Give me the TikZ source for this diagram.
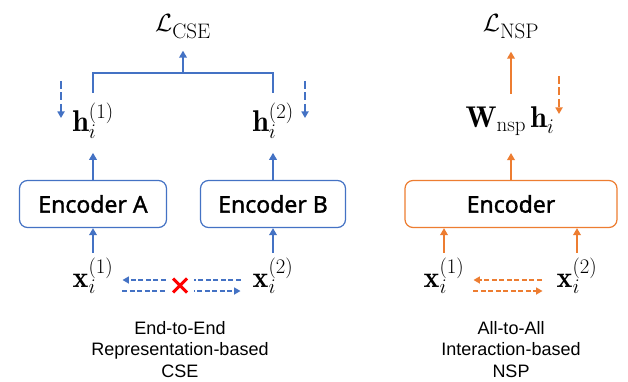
\documentclass[tikz,border=0pt]{standalone}
\usepackage{fontspec}
\newfontfamily\capfont{Liberation Sans}
\newfontfamily\encfont[FakeBold=1.3]{Noto Sans}
\usetikzlibrary{arrows.meta}
\definecolor{cb}{HTML}{4472C4}
\definecolor{co}{HTML}{ED7D31}
\definecolor{cx}{HTML}{FF0000}
\begin{document}
\begin{tikzpicture}[x=1pt,y=-1pt,
  mt/.style={font=\fontsize{30}{35}\selectfont, inner sep=0pt, anchor=base},
  enc/.style={rounded corners=8pt, line width=1.2pt, font=\encfont\fontsize{23}{27}\selectfont, inner sep=0pt, minimum height=47pt},
  captext/.style={font=\capfont\fontsize{18}{21.5}\selectfont, align=center, inner sep=0pt, anchor=north},
  tipB/.style={-{Triangle[width=7.5pt,length=7pt]}},
  lineB/.style={draw=cb, line width=2pt},
  lineO/.style={draw=co, line width=2pt},
  arrB/.style={lineB, tipB},
  arrO/.style={lineO, tipB},
  dvB/.style={draw=cb, line width=1.8pt, dash pattern=on 8pt off 3.5pt, -{Triangle[width=7pt,length=6.5pt]}},
  dvO/.style={draw=co, line width=1.8pt, dash pattern=on 8pt off 3.5pt, -{Triangle[width=7pt,length=6.5pt]}},
  dhB/.style={draw=cb, line width=2pt, dash pattern=on 5pt off 2.5pt, -{Triangle[width=7pt,length=6.5pt]}},
  dhO/.style={draw=co, line width=2pt, dash pattern=on 5pt off 2.5pt, -{Triangle[width=7pt,length=6.5pt]}}
]
\useasboundingbox[fill=white] (0,0) rectangle (628,382);

% encoders
\node[enc, draw=cb, minimum width=147pt] (eA) at (93,204) {Encoder A};
\node[enc, draw=cb, minimum width=145pt] (eB) at (273,204) {Encoder B};
\node[enc, draw=co, minimum width=212pt] (eC) at (511,204) {Encoder};

% math nodes
\node[mt] (Lc) at (183,32) {$\mathcal{L}_{\mathrm{CSE}}$};
\node[mt] (hA) at (93,132) {$\mathbf{h}_i^{(1)}$};
\node[mt] (hB) at (273,132) {$\mathbf{h}_i^{(2)}$};
\node[mt] (Ln) at (511,32) {$\mathcal{L}_{\mathrm{NSP}}$};
\node[mt] (Wh) at (510,128) {$\mathbf{W}_{\mathrm{nsp}}\,\mathbf{h}_i$};
\node[mt] (xA) at (93,287) {$\mathbf{x}_i^{(1)}$};
\node[mt] (xB) at (273,287) {$\mathbf{x}_i^{(2)}$};
\node[mt] (xC) at (444,287) {$\mathbf{x}_i^{(1)}$};
\node[mt] (xD) at (577,287) {$\mathbf{x}_i^{(2)}$};

% left part
\coordinate (j) at (183,73);
\draw[arrB, shorten >=14pt] (eA.north) -- (eA.north |- hA.south);
\draw[arrB, shorten >=14pt] (eB.north) -- (eB.north |- hB.south);
\draw[lineB, shorten <=10pt, shorten >=10pt] (hA.north -| eA.north) |- (j) -| (hB.north -| eB.north);
\draw[arrB, shorten >=12pt] (j) -- (j |- Lc.south);
\draw[arrB, shorten <=5pt] (xA.north) -- (xA.north |- eA.south);
\draw[arrB, shorten <=5pt] (xB.north) -- (xB.north |- eB.south);

\coordinate (gA1) at (61,81); \coordinate (gA2) at (61,118);
\coordinate (gB1) at (305,81); \coordinate (gB2) at (305,118);
\draw[dvB] (gA1) -- (gA2);
\draw[dvB] (gB1) -- (gB2);

\coordinate (up) at (0,280);
\coordinate (lo) at (0,291);
\draw[dhB, shorten <=12pt, shorten >=9pt] (xB.west |- up) -- (xA.east |- up);
\draw[dhB, shorten <=9pt, shorten >=12pt] (xA.east |- lo) -- (xB.west |- lo);
\node[fill=white, inner sep=0pt, minimum width=28pt, minimum height=22pt,
  path picture={\draw[cx, line width=3pt]
    ([shift={(-7pt,-7pt)}]path picture bounding box.center) -- ([shift={(7pt,7pt)}]path picture bounding box.center)
    ([shift={(-7pt,7pt)}]path picture bounding box.center) -- ([shift={(7pt,-7pt)}]path picture bounding box.center);}]
  (no) at (180,285.5) {};

% right part
\draw[arrO, shorten >=17pt] (eC.north) -- (eC.north |- Wh.south);
\draw[arrO, shorten <=13pt, shorten >=13pt] (Ln.south |- Wh.north) -- (Ln.south);
\coordinate (gC1) at (559,76); \coordinate (gC2) at (559,114);
\draw[dvO] (gC1) -- (gC2);
\draw[arrO, shorten <=5pt] (xC.north) -- (xC.north |- eC.south);
\draw[arrO, shorten <=5pt] (xD.north) -- (xD.north |- eC.south);
\draw[dhO, shorten <=15pt, shorten >=9pt] (xD.west |- up) -- (xC.east |- up);
\draw[dhO, shorten <=9pt, shorten >=14pt] (xC.east |- lo) -- (xD.west |- lo);

% captions
\node[captext] (cL) at (180,321) {End-to-End\\Representation-based\\CSE};
\node[captext] (cR) at (511,321) {All-to-All\\Interaction-based\\NSP};
\end{tikzpicture}
\end{document}
